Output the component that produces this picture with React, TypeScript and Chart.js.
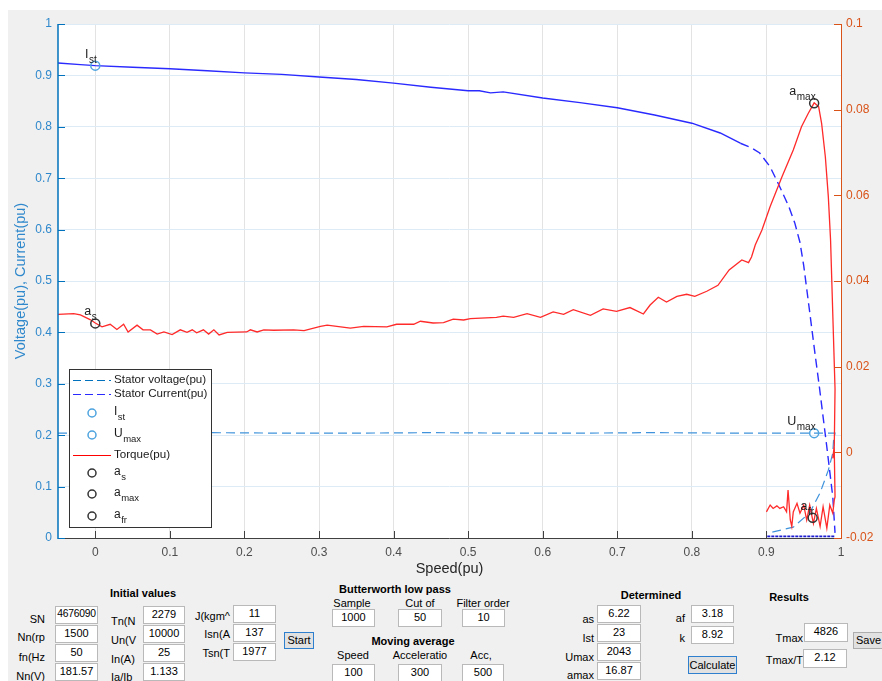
import React, { useEffect, useRef } from "react";
import { Chart, registerables } from "chart.js";
Chart.register(...registerables);

// ---------- data ----------
const xTicks = [0, 0.1, 0.2, 0.3, 0.4, 0.5, 0.6, 0.7, 0.8, 0.9, 1];
const xTickLabels = ["0", "0.1", "0.2", "0.3", "0.4", "0.5", "0.6", "0.7", "0.8", "0.9", "1"];
const leftTicks = [0, 0.1, 0.2, 0.3, 0.4, 0.5, 0.6, 0.7, 0.8, 0.9, 1];
const leftTickLabels = ["0", "0.1", "0.2", "0.3", "0.4", "0.5", "0.6", "0.7", "0.8", "0.9", "1"];
const rightTicks = [-0.02, 0, 0.02, 0.04, 0.06, 0.08, 0.1];
const rightTickLabels = ["-0.02", "0", "0.02", "0.04", "0.06", "0.08", "0.1"];

const voltageSpeed = [-0.05, 0.05, 0.15, 0.25, 0.35, 0.45, 0.55, 0.65, 0.75, 0.85, 0.95, 0.992, 0.99, 0.989, 0.983, 0.972, 0.958, 0.936, 0.909, 0.9];
const voltageValues = [0.204, 0.204, 0.205, 0.204, 0.204, 0.205, 0.204, 0.204, 0.205, 0.204, 0.204, 0.204, 0.19, 0.165, 0.132, 0.088, 0.049, 0.021, 0.012, 0.01];

const currentSpeed = [-0.05, -0.02, 0, 0.05, 0.1, 0.15, 0.2, 0.25, 0.3, 0.35, 0.4, 0.45, 0.5, 0.515, 0.53, 0.547, 0.6, 0.65, 0.7, 0.75, 0.8, 0.838, 0.865, 0.88, 0.891, 0.905, 0.918, 0.93, 0.938, 0.945, 0.95, 0.958, 0.965, 0.971, 0.981, 0.989, 0.992];
const currentValues = [0.924, 0.921, 0.919, 0.916, 0.913, 0.909, 0.905, 0.902, 0.897, 0.892, 0.885, 0.877, 0.87, 0.87, 0.866, 0.868, 0.856, 0.847, 0.837, 0.823, 0.807, 0.788, 0.768, 0.759, 0.749, 0.722, 0.683, 0.645, 0.613, 0.575, 0.53, 0.44, 0.36, 0.294, 0.177, 0.08, 0.01];
const currentTailSpeed = [0.991, 0.9];
const currentTailValues = [0.003, 0.003];

const torqueSpeed = [
  -0.05, -0.029, -0.02, -0.007, 0, 0.009, 0.02, 0.029, 0.038, 0.044,
  0.056, 0.064, 0.074, 0.083, 0.092, 0.103, 0.114, 0.123, 0.13, 0.136,
  0.145, 0.152, 0.159, 0.166, 0.177, 0.203, 0.208, 0.217, 0.226, 0.239,
  0.266, 0.28, 0.302, 0.311, 0.342, 0.36, 0.391, 0.404, 0.427, 0.436,
  0.453, 0.467, 0.48, 0.494, 0.503, 0.538, 0.547, 0.561, 0.579, 0.597,
  0.614, 0.628, 0.641, 0.664, 0.681, 0.699, 0.717, 0.735, 0.744, 0.755,
  0.766, 0.78, 0.793, 0.804, 0.82, 0.835, 0.85, 0.867, 0.876, 0.88,
  0.885, 0.894, 0.905, 0.921, 0.936, 0.947, 0.956, 0.964, 0.97, 0.974,
  0.979, 0.983, 0.986, 0.992, 0.991, 0.989, 0.991, 0.992, 0.991, 0.989,
  0.985, 0.981, 0.976, 0.972, 0.967, 0.963, 0.958, 0.954, 0.95, 0.945,
  0.941, 0.936, 0.934, 0.932, 0.929, 0.927, 0.923, 0.918, 0.914, 0.909,
  0.905, 0.9,
];
const torqueValues = [
  0.0322, 0.0324, 0.0321, 0.031, 0.0302, 0.0293, 0.0299, 0.0287, 0.0299, 0.0281,
  0.0297, 0.0286, 0.0286, 0.0276, 0.0281, 0.0275, 0.0286, 0.028, 0.0286, 0.0279,
  0.0286, 0.0276, 0.0286, 0.0274, 0.028, 0.0281, 0.0286, 0.0281, 0.0286, 0.0285,
  0.0286, 0.0284, 0.0294, 0.0297, 0.029, 0.0294, 0.0293, 0.0299, 0.0299, 0.0306,
  0.0302, 0.0303, 0.0311, 0.0309, 0.0312, 0.0315, 0.0318, 0.0315, 0.0324, 0.0315,
  0.0328, 0.0322, 0.0333, 0.032, 0.0335, 0.0329, 0.0338, 0.0323, 0.0344, 0.0362,
  0.0351, 0.0364, 0.0369, 0.0364, 0.0376, 0.039, 0.0426, 0.0449, 0.0443, 0.0456,
  0.0484, 0.0519, 0.0574, 0.0644, 0.0706, 0.076, 0.0791, 0.0816, 0.0807, 0.0768,
  0.069, 0.0597, 0.0496, 0.0148, 0.0016, -0.0014, 0.0004, -0.0104, -0.0111, -0.0142,
  -0.0123, -0.0177, -0.0127, -0.0173, -0.0131, -0.0166, -0.0123, -0.0158, -0.0123, -0.0142,
  -0.0119, -0.0139, -0.0173, -0.0158, -0.0088, -0.0139, -0.0127, -0.0131, -0.0125, -0.0131,
  -0.0123, -0.0139,
];

// markers: [speed, value]
const istMarker = [0, 0.919];
const umaxMarker = [0.964, 0.204];
const asMarker = [0, 0.0301];
const amaxMarker = [0.964, 0.0815];
const afrMarker = [0.962, -0.0153];

const legendItems = [
  { kind: "dash", color: "#0072BD", main: "Stator voltage(pu)", sub: "" },
  { kind: "dash", color: "#2a2aff", main: "Stator Current(pu)", sub: "" },
  { kind: "circle", color: "#4DA3DF", main: "I", sub: "st" },
  { kind: "circle", color: "#4DA3DF", main: "U", sub: "max" },
  { kind: "line", color: "#ff0000", main: "Torque(pu)", sub: "" },
  { kind: "circle", color: "#333333", main: "a", sub: "s" },
  { kind: "circle", color: "#333333", main: "a", sub: "max" },
  { kind: "circle", color: "#333333", main: "a", sub: "fr" },
];

// GUI panel values
const initLabels1 = ["SN", "Nn(rp", "fn(Hz", "Nn(V)"];
const initValues1 = ["4676090", "1500", "50", "181.57"];
const initLabels2 = ["Tn(N", "Un(V", "In(A)", "Ia/Ib"];
const initValues2 = ["2279", "10000", "25", "1.133"];
const initLabels3 = ["J(kgm^", "Isn(A", "Tsn(T"];
const initValues3 = ["11", "137", "1977"];
const butterLabels = ["Sample", "Cut of", "Filter order"];
const butterValues = ["1000", "50", "10"];
const movLabels = ["Speed", "Acceleratio", "Acc,"];
const movValues = ["100", "300", "500"];
const detLabels = ["as", "Ist", "Umax", "amax"];
const detValues = ["6.22", "23", "2043", "16.87"];
const detLabels2 = ["af", "k"];
const detValues2 = ["3.18", "8.92"];
const resLabels = ["Tmax", "Tmax/T"];
const resValues = ["4826", "2.12"];

const FONT = "'Liberation Sans', Arial, sans-serif";
const OX = 8, OY = 10; // page offset of figure

const zip = (xs: number[], ys: number[]) => xs.map((x, i) => ({ x, y: ys[i] }));

function drawSubText(ctx: CanvasRenderingContext2D, x: number, y: number, main: string, sub: string, size: number, subSize: number, align: "left" | "right") {
  ctx.font = `${size}px ${FONT}`;
  const w1 = ctx.measureText(main).width;
  ctx.font = `${subSize}px ${FONT}`;
  const w2 = sub ? ctx.measureText(sub).width : 0;
  const x0 = align === "left" ? x : x - w1 - w2;
  ctx.textBaseline = "alphabetic";
  ctx.textAlign = "left";
  ctx.font = `${size}px ${FONT}`;
  ctx.fillText(main, x0, y);
  if (sub) {
    ctx.font = `${subSize}px ${FONT}`;
    ctx.fillText(sub, x0 + w1 + 0.5, y + 5);
  }
}

const overlayPlugin = {
  id: "overlay",
  beforeDraw(chart: any) {
    const { ctx, chartArea: a } = chart;
    ctx.save();
    ctx.fillStyle = "#ffffff";
    ctx.fillRect(a.left, a.top, a.right - a.left, a.bottom - a.top);
    ctx.restore();
  },
  afterDraw(chart: any) {
    const { ctx, chartArea: a, scales } = chart;
    const sx = scales.x, sy = scales.y, sy1 = scales.y1;
    ctx.save();
    // axes lines
    ctx.lineWidth = 1;
    ctx.strokeStyle = "#404040";
    ctx.beginPath(); ctx.moveTo(a.left, a.bottom + 0.5); ctx.lineTo(a.right, a.bottom + 0.5); ctx.stroke();
    xTicks.forEach((v) => {
      const px = Math.round(sx.getPixelForValue(v)) + 0.5;
      ctx.beginPath(); ctx.moveTo(px, a.bottom); ctx.lineTo(px, a.bottom - 7); ctx.stroke();
    });
    ctx.strokeStyle = "#0072BD";
    ctx.lineWidth = 1.5;
    ctx.beginPath(); ctx.moveTo(a.left, a.top); ctx.lineTo(a.left, a.bottom + 1); ctx.stroke();
    ctx.lineWidth = 1;
    leftTicks.forEach((v) => {
      const py = Math.round(sy.getPixelForValue(v)) + 0.5;
      ctx.beginPath(); ctx.moveTo(a.left, py); ctx.lineTo(a.left + 7, py); ctx.stroke();
    });
    ctx.strokeStyle = "#D95319";
    ctx.beginPath(); ctx.moveTo(a.right + 0.5, a.top); ctx.lineTo(a.right + 0.5, a.bottom + 1); ctx.stroke();
    rightTicks.forEach((v) => {
      const py = Math.round(sy1.getPixelForValue(v)) + 0.5;
      ctx.beginPath(); ctx.moveTo(a.right, py); ctx.lineTo(a.right - 7, py); ctx.stroke();
    });

    // marker labels
    ctx.fillStyle = "#1a1a1a";
    const lab = (m: number[], scale: any, main: string, sub: string) => {
      const px = sx.getPixelForValue(m[0]);
      const py = scale.getPixelForValue(m[1]);
      drawSubText(ctx, px + 1, py - 8, main, sub, 12.5, 10, "right");
    };
    lab(istMarker, sy, "I", "st");
    lab(umaxMarker, sy, "U", "max");
    lab(asMarker, sy1, "a", "s");
    lab(amaxMarker, sy1, "a", "max");
    lab(afrMarker, sy1, "a", "fr");

    // legend
    const bx = 69 - OX, by = 369 - OY, bw = 142, bh = 158;
    ctx.fillStyle = "#ffffff";
    ctx.fillRect(bx, by, bw, bh);
    ctx.strokeStyle = "#333333";
    ctx.lineWidth = 1;
    ctx.strokeRect(bx + 0.5, by + 0.5, bw, bh);
    const rows = [380, 394, 413, 435, 455, 473, 494, 516];
    legendItems.forEach((it, i) => {
      const yy = rows[i] - OY;
      ctx.strokeStyle = it.color;
      if (it.kind === "dash" || it.kind === "line") {
        ctx.lineWidth = 1.2;
        ctx.setLineDash(it.kind === "dash" ? [8, 4] : []);
        ctx.beginPath(); ctx.moveTo(73 - OX, yy + 0.5); ctx.lineTo(111 - OX, yy + 0.5); ctx.stroke();
        ctx.setLineDash([]);
      } else {
        ctx.lineWidth = 1.5;
        ctx.beginPath(); ctx.arc(92 - OX, yy, 4, 0, Math.PI * 2); ctx.stroke();
      }
      ctx.fillStyle = "#1a1a1a";
      if (it.sub) {
        drawSubText(ctx, 114 - OX, yy + 2, it.main, it.sub, 12, 9.5, "left");
      } else {
        ctx.font = `11.6px ${FONT}`;
        ctx.textBaseline = "middle";
        ctx.textAlign = "left";
        ctx.fillText(it.main, 114 - OX, yy);
      }
    });
    ctx.restore();
  },
};

function ChartCanvas() {
  const ref = useRef<HTMLCanvasElement | null>(null);
  useEffect(() => {
    if (!ref.current) return;
    const markerDs = (m: number[], axis: string, color: string) => ({
      data: [{ x: m[0], y: m[1] }],
      yAxisID: axis,
      showLine: false,
      pointRadius: 4.5,
      pointBorderWidth: 1.5,
      pointBorderColor: color,
      pointBackgroundColor: "rgba(0,0,0,0)",
      borderColor: color,
    });
    const chart = new Chart(ref.current, {
      type: "line",
      data: {
        datasets: [
          markerDs(istMarker, "y", "#4DA3DF"),
          markerDs(umaxMarker, "y", "#4DA3DF"),
          markerDs(asMarker, "y1", "#333333"),
          markerDs(amaxMarker, "y1", "#333333"),
          markerDs(afrMarker, "y1", "#333333"),
          {
            data: zip(torqueSpeed, torqueValues),
            yAxisID: "y1",
            borderColor: "#ff2a2a",
            borderWidth: 1.3,
            pointRadius: 0,
          },
          {
            data: zip(currentSpeed, currentValues),
            yAxisID: "y",
            borderColor: "#2a2aff",
            borderWidth: 1.4,
            pointRadius: 0,
            segment: {
              borderDash: (c: any) => (c.p0.parsed.x > 0.86 ? [9, 5] : undefined),
            },
          },
          {
            data: zip(currentTailSpeed, currentTailValues),
            yAxisID: "y",
            borderColor: "#1c1cd0",
            borderWidth: 1.8,
            borderDash: [3, 1],
            pointRadius: 0,
          },
          {
            data: zip(voltageSpeed, voltageValues),
            yAxisID: "y",
            borderColor: "#3f93dc",
            borderWidth: 1.2,
            borderDash: [9, 5],
            pointRadius: 0,
          },
        ] as any,
      },
      options: {
        animation: false,
        responsive: false,
        maintainAspectRatio: false,
        layout: { padding: { top: 14, left: 0, right: 0, bottom: 0 } },
        plugins: { legend: { display: false }, tooltip: { enabled: false } },
        elements: { line: { tension: 0 } },
        scales: {
          x: {
            type: "linear",
            min: -0.05,
            max: 1,
            afterBuildTicks: (s: any) => { s.ticks = xTicks.map((v) => ({ value: v })); },
            afterFit: (s: any) => { s.height = 44; },
            ticks: {
              callback: (_v: any, i: number) => xTickLabels[i],
              color: "#4d4d4d",
              font: { family: FONT, size: 12 },
              padding: 7,
              maxRotation: 0,
            },
            grid: { color: "#e3e3e3", drawTicks: false },
            border: { display: false },
            title: {
              display: true,
              text: "Speed(pu)",
              color: "#262626",
              font: { family: FONT, size: 14.5 },
              padding: { top: 4, bottom: 4 },
            },
          },
          y: {
            type: "linear",
            position: "left",
            min: 0,
            max: 1,
            afterBuildTicks: (s: any) => { s.ticks = leftTicks.map((v) => ({ value: v })); },
            afterFit: (s: any) => { s.width = 50; },
            ticks: {
              callback: (_v: any, i: number) => leftTickLabels[i],
              color: "#2f88cc",
              font: { family: FONT, size: 12 },
              padding: 6,
            },
            grid: { color: "#dcebf6", drawTicks: false },
            border: { display: false },
            title: {
              display: true,
              text: "Voltage(pu), Current(pu)",
              color: "#2f88cc",
              font: { family: FONT, size: 14.5 },
              padding: { top: 4, bottom: 4 },
            },
          },
          y1: {
            type: "linear",
            position: "right",
            min: -0.02,
            max: 0.1,
            afterBuildTicks: (s: any) => { s.ticks = rightTicks.map((v) => ({ value: v })); },
            afterFit: (s: any) => { s.width = 41; },
            ticks: {
              callback: (_v: any, i: number) => rightTickLabels[i],
              color: "#D95319",
              font: { family: FONT, size: 12 },
              padding: 5,
            },
            grid: { display: false, drawTicks: false },
            border: { display: false },
          },
        },
      } as any,
      plugins: [overlayPlugin],
    });
    return () => chart.destroy();
  }, []);
  return (
    <canvas
      ref={ref}
      width={874}
      height={572}
      style={{ position: "absolute", left: 0, top: 0, width: 874, height: 572 }}
    />
  );
}

// ---------- GUI helpers (page coordinates) ----------
const baseText: React.CSSProperties = {
  position: "absolute",
  fontFamily: FONT,
  fontSize: 11,
  color: "#000",
  whiteSpace: "nowrap",
  lineHeight: "14px",
};

function Txt(props: { x: number; y: number; text: string; align?: "left" | "right" | "center"; bold?: boolean; size?: number }) {
  const { x, y, text, align = "left", bold, size = 11 } = props;
  const style: React.CSSProperties = { ...baseText, top: y - OY - 7, fontSize: size, fontWeight: bold ? 700 : 400 };
  if (align === "left") style.left = x - OX;
  else if (align === "right") { style.left = x - OX - 200; style.width = 200; style.textAlign = "right"; }
  else { style.left = x - OX - 100; style.width = 200; style.textAlign = "center"; }
  return <div style={style}>{text}</div>;
}

function Box(props: { x1: number; y1: number; x2: number; y2: number; value: string }) {
  const { x1, y1, x2, y2, value } = props;
  return (
    <div
      style={{
        ...baseText,
        left: x1 - OX,
        top: y1 - OY,
        width: x2 - x1 - 2,
        height: y2 - y1 - 2,
        background: "#fff",
        border: "1px solid #b9b9b9",
        textAlign: "center",
        lineHeight: `${y2 - y1 - 4}px`,
        fontSize: value.length > 6 ? 10.3 : 11,
        letterSpacing: value.length > 6 ? -0.2 : 0,
        overflow: "hidden",
      }}
    >
      {value}
    </div>
  );
}

function Btn(props: { x1: number; y1: number; x2: number; y2: number; text: string; focus?: boolean; textX?: number }) {
  const { x1, y1, x2, y2, text, focus, textX } = props;
  return (
    <div
      style={{
        ...baseText,
        left: x1 - OX,
        top: y1 - OY,
        width: x2 - x1 - 2,
        height: y2 - y1 - 2,
        background: "#e1e1e1",
        border: `1px solid ${focus ? "#2f7fcf" : "#adadad"}`,
        textAlign: textX !== undefined ? "left" : "center",
        paddingLeft: textX !== undefined ? textX : 0,
        boxSizing: "content-box",
        lineHeight: `${y2 - y1 - 2}px`,
        fontSize: 11,
      }}
    >
      {text}
    </div>
  );
}

export default function App() {
  const rowY = [606, 625, 644, 663];
  const rowLab1 = [619, 637, 657, 676];
  const rowLab2 = [621, 640, 659, 677];
  const rowLab3 = [616, 634, 653];
  const rowY3 = [605, 624, 643];
  const detRowY = [605, 624, 643, 662];
  const detLabY = [619, 638, 657, 675];
  return (
    <div
      style={{
        position: "fixed",
        left: OX,
        top: OY,
        width: 874,
        height: 671,
        background: "#f0f0f0",
        overflow: "hidden",
      }}
    >
      <ChartCanvas />
      {/* Initial values */}
      <Txt x={143} y={593} text="Initial values" align="center" bold />
      {initLabels1.map((t, i) => <Txt key={"l1" + i} x={45} y={rowLab1[i]} text={t} align="right" />)}
      {initValues1.map((v, i) => <Box key={"b1" + i} x1={55} y1={rowY[i]} x2={98} y2={rowY[i] + 18} value={v} />)}
      {initLabels2.map((t, i) => <Txt key={"l2" + i} x={111} y={rowLab2[i]} text={t} />)}
      {initValues2.map((v, i) => <Box key={"b2" + i} x1={143} y1={rowY[i]} x2={185} y2={rowY[i] + 18} value={v} />)}
      {initLabels3.map((t, i) => <Txt key={"l3" + i} x={230} y={rowLab3[i]} text={t} align="right" />)}
      {initValues3.map((v, i) => <Box key={"b3" + i} x1={233} y1={rowY3[i]} x2={276} y2={rowY3[i] + 18} value={v} />)}
      <Btn x1={284} y1={632} x2={314} y2={649} text="Start" focus />
      {/* Butterworth */}
      <Txt x={395} y={589} text="Butterworth low pass" align="center" bold />
      {butterLabels.map((t, i) => <Txt key={"bl" + i} x={[352, 420, 483][i]} y={603} text={t} align="center" />)}
      {butterValues.map((v, i) => <Box key={"bb" + i} x1={[332, 398, 462][i]} y1={609} x2={[375, 442, 505][i]} y2={627} value={v} />)}
      <Txt x={413} y={641} text="Moving average" align="center" bold />
      {movLabels.map((t, i) => <Txt key={"ml" + i} x={[353, 420, 481][i]} y={655} text={t} align="center" />)}
      {movValues.map((v, i) => <Box key={"mb" + i} x1={[332, 398, 462][i]} y1={664} x2={[375, 442, 504][i]} y2={682} value={v} />)}
      {/* Determined */}
      <Txt x={651} y={595} text="Determined" align="center" bold />
      {detLabels.map((t, i) => <Txt key={"dl" + i} x={594} y={detLabY[i]} text={t} align="right" />)}
      {detValues.map((v, i) => <Box key={"db" + i} x1={597} y1={detRowY[i]} x2={641} y2={detRowY[i] + 18} value={v} />)}
      {detLabels2.map((t, i) => <Txt key={"dl2" + i} x={685} y={[618, 638][i]} text={t} align="right" />)}
      {detValues2.map((v, i) => <Box key={"db2" + i} x1={691} y1={[605, 626][i]} x2={734} y2={[605, 626][i] + 18} value={v} />)}
      <Btn x1={688} y1={656} x2={737} y2={674} text="Calculate" focus />
      {/* Results */}
      <Txt x={789} y={597} text="Results" align="center" bold />
      {resLabels.map((t, i) => <Txt key={"rl" + i} x={803} y={[638, 660][i]} text={t} align="right" />)}
      {resValues.map((v, i) => <Box key={"rb" + i} x1={[804, 803][i]} y1={[623, 649][i]} x2={[848, 847][i]} y2={[623, 649][i] + 19} value={v} />)}
      <Btn x1={853} y1={632} x2={884} y2={649} text="Save" textX={2} />
    </div>
  );
}
